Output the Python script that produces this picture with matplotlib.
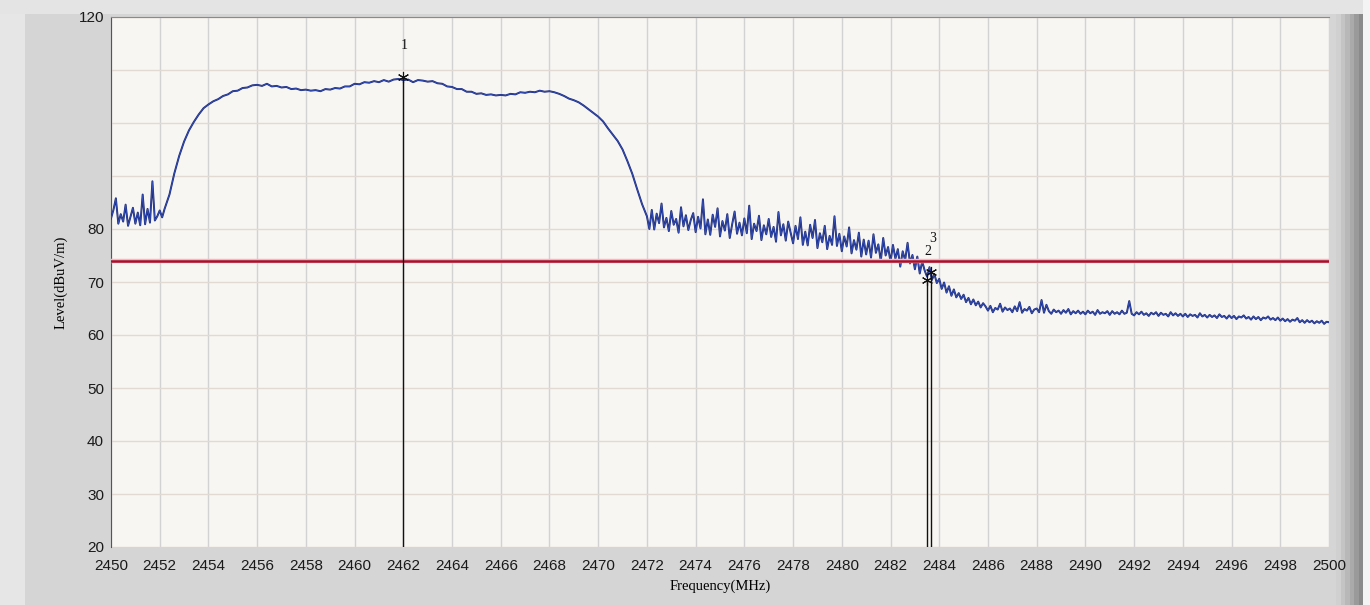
import matplotlib.pyplot as plt
from matplotlib.patches import Rectangle
import numpy as np

freq_a = np.arange(2450.0, 2452.15, 0.1)
level_a = [
    82.0, 83.6, 85.8, 81.0, 82.8, 81.4, 84.6, 80.6, 82.3, 84.0,
    81.0, 83.1, 80.7, 86.5, 80.9, 83.8, 81.2, 89.0, 81.6, 82.4,
    83.5, 82.2,
]

freq_b = np.arange(2452.2, 2471.85, 0.2)
level_b = [
    83.8, 86.5, 90.5, 93.8, 96.5, 98.6, 100.2, 101.6, 102.8,
    103.5, 104.1, 104.5, 105.1, 105.4, 106.0, 106.1, 106.6, 106.7, 107.1,
    107.2, 107.0, 107.4, 106.9, 107.0, 106.7, 106.8, 106.4, 106.5, 106.2,
    106.3, 106.1, 106.2, 106.0, 106.4, 106.3, 106.6, 106.5, 106.9, 106.9,
    107.4, 107.3, 107.7, 107.6, 107.9, 107.7, 108.1, 107.8, 108.2, 108.3,
    108.1, 108.2, 107.7, 108.1, 108.0, 107.8, 107.9, 107.5, 107.4, 106.9,
    106.8, 106.4, 106.4, 105.9, 105.9, 105.5, 105.6, 105.3, 105.4, 105.2,
    105.3, 105.2, 105.5, 105.4, 105.8, 105.7, 105.9, 105.8, 106.1, 105.9,
    106.0, 105.8, 105.5, 105.1, 104.6, 104.3, 103.9, 103.3, 102.6, 101.9,
    101.2, 100.3, 99.0, 97.8, 96.6, 95.0, 92.8, 90.4, 87.5, 84.7,
]

freq_c = np.arange(2472.0, 2485.95, 0.1)
level_c = [
    82.4, 80.0, 83.6, 79.9, 82.9, 81.1, 84.8, 80.3, 82.1, 79.6,
    83.4, 80.8, 81.9, 79.3, 84.1, 80.5, 82.6, 79.8, 81.7, 83.0,
    79.4, 82.3, 80.1, 85.6, 79.0, 81.8, 78.9, 82.7, 80.4, 83.9,
    78.6, 81.5, 79.7, 82.8, 78.3, 80.9, 83.3, 79.1, 81.2, 78.8,
    82.0, 79.2, 84.4, 78.1, 81.0, 79.6, 82.5, 77.9, 80.7, 79.0,
    81.9, 78.5, 80.4, 77.6, 83.2, 78.8, 80.9, 77.8, 81.4, 79.3,
    77.3, 80.6, 78.1, 82.2, 77.0, 79.5, 76.9, 80.8, 78.3, 81.7,
    76.4, 79.2, 77.5, 80.6, 76.2, 78.7, 77.0, 82.4, 76.8, 79.1,
    75.8, 78.6, 76.7, 80.3, 75.4, 77.9, 76.1, 79.3, 74.8, 78.0,
    75.2, 77.8, 74.6, 79.0, 75.5, 77.1, 73.9, 78.3, 75.0, 76.6,
    73.8, 77.0, 74.4, 76.2, 72.9, 75.8, 74.1, 77.4, 73.5, 75.1,
    72.4, 74.8, 71.6, 73.9, 72.2, 71.0, 72.8, 70.4, 71.5, 69.8,
    70.6, 68.7, 69.9, 68.0, 69.2, 67.4, 68.6, 67.1, 67.9, 66.8,
    67.6, 66.2, 67.0, 65.8, 66.7, 65.6, 66.3, 65.2, 66.0, 65.4,
]

freq_d = np.arange(2486.0, 2500.05, 0.1)
level_d = [
    64.6, 65.5, 64.3, 65.1, 64.8, 65.9, 64.4, 65.2, 64.7, 65.0,
    64.3, 65.4, 64.5, 66.2, 64.2, 64.9, 64.6, 65.3, 64.1, 64.8,
    65.0, 64.3, 66.6, 64.2, 65.7, 64.5, 64.0, 64.8, 64.3, 64.6,
    64.0, 64.7, 64.2, 64.9, 63.9, 64.5, 64.1, 64.6, 64.0, 64.4,
    63.9, 64.6, 64.1, 64.4, 63.8, 64.7, 64.0, 64.3, 64.1, 64.5,
    63.8, 64.5, 64.0, 64.3, 63.9, 64.6, 64.0, 64.2, 66.4, 64.0,
    63.7, 64.3, 63.9, 64.4, 63.8, 64.1, 63.6, 64.2, 63.9, 64.3,
    63.6, 64.2, 63.8, 64.0, 63.5, 64.3, 63.7, 64.1, 63.6, 64.0,
    63.5, 64.0, 63.4, 63.9, 63.6, 63.8, 63.3, 64.1, 63.5, 63.8,
    63.3, 63.8, 63.4, 63.7, 63.2, 63.9, 63.4, 63.6, 63.1, 63.7,
    63.2, 63.6, 63.0, 63.5, 63.3, 63.7, 63.1, 63.4, 62.9, 63.5,
    63.0, 63.4, 62.8, 63.3, 63.1, 63.5, 62.9, 63.2, 62.8, 63.3,
    62.7, 63.1, 62.6, 63.0, 62.5, 62.9, 62.7, 63.2, 62.4, 62.8,
    62.3, 62.8, 62.4, 62.7, 62.2, 62.6, 62.3, 62.7, 62.1, 62.5,
    62.4,
]

freq = np.concatenate([freq_a, freq_b, freq_c, freq_d])
level = np.concatenate([level_a, level_b, level_c, level_d])

limit_level = 74.0

marker_names = ["1", "2", "3"]
marker_freq = [2462.0, 2483.5, 2483.67]
marker_level = [108.6, 70.4, 71.8]
marker_label_level = [114.7, 75.7, 78.2]

x_ticks = list(range(2450, 2501, 2))
y_grid = list(range(20, 121, 10))
y_labels = {120: "120", 80: "80", 70: "70", 60: "60", 50: "50", 40: "40", 30: "30", 20: "20"}

W, H = 1370, 605
fig = plt.figure(figsize=(W / 100, H / 100), dpi=100)
fig.patch.set_facecolor("#d5d5d5")

# window frame bits
def frame(x, y, w, h, c):
    fig.patches.append(Rectangle((x / W, y / H), w / W, h / H, transform=fig.transFigure,
                                 facecolor=c, edgecolor="none", zorder=-5))

frame(0, 0, 25, H, "#e6e6e6")
frame(0, H - 14, W, 14, "#e4e4e4")
for i, c in enumerate(["#d0d0d0", "#c4c4c4", "#b8b8b8", "#aaaaaa", "#9a9a9a", "#8a8a8a"]):
    frame(1336 + i * 4.5, 0, 4.5, H - 14, c)
frame(1363, 0, 7, H, "#f4f4f4")

ax = fig.add_axes([111 / W, (H - 547) / H, (1329 - 111) / W, (547 - 17) / H])
ax.set_facecolor("#f8f6f3")

ax.set_xlim(2450, 2500)
ax.set_ylim(20, 120)

for x in x_ticks:
    ax.axvline(x, color="#d2d2d2", lw=1.0, zorder=1)
for y in y_grid:
    ax.axhline(y, color="#e2dad2", lw=1.0, zorder=1)

ax.plot(freq, level, color="#1c2a78", lw=1.4, zorder=3)
ax.plot(freq, level, color="#3550b8", lw=0.6, zorder=3)

ax.axhline(limit_level, color="#f0b8c0", lw=3.2, zorder=4)
ax.axhline(limit_level, color="#a8102c", lw=1.8, zorder=4)

for name, mf, ml, tl in zip(marker_names, marker_freq, marker_level, marker_label_level):
    ax.plot([mf, mf], [20, ml], color="#111111", lw=1.0, zorder=5)
    ax.plot(mf, ml, marker=(6, 2, 0), ms=8, color="#111111", mew=0.8, zorder=6)
    ax.text(mf + 0.05, tl, name, ha="center", va="center", fontsize=10,
            family="Liberation Serif", color="#111111", zorder=6)

ax.set_xticks(x_ticks)
ax.set_xticklabels([str(x) for x in x_ticks])
ax.set_yticks(list(y_labels.keys()))
ax.set_yticklabels(list(y_labels.values()))
ax.tick_params(length=0, labelsize=11, colors="#1a1a1a")
ax.tick_params(axis="x", pad=9)
ax.tick_params(axis="y", pad=5)
for lab in ax.get_xticklabels() + ax.get_yticklabels():
    lab.set_family("Liberation Sans")

for s in ["right", "bottom"]:
    ax.spines[s].set_visible(False)
ax.spines["left"].set_color("#555555")
ax.spines["top"].set_color("#8a8a8a")

ax.set_xlabel("Frequency(MHz)", family="Liberation Serif", fontsize=10.5, labelpad=4)
ax.set_ylabel("Level(dBuV/m)", family="Liberation Serif", fontsize=10.5, labelpad=8)

fig.savefig("out.png", dpi=100, facecolor=fig.get_facecolor())
